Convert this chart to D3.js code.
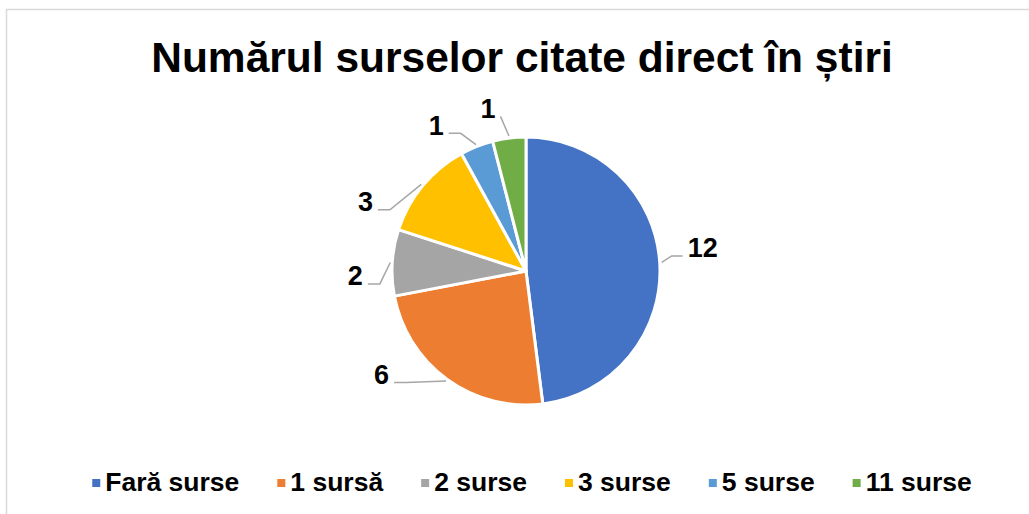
<!DOCTYPE html>
<html>
<head>
<meta charset="utf-8">
<script src="https://cdn.jsdelivr.net/npm/d3@7"></script>
<style>
  body { margin: 0; background: #fff; }
  svg { display: block; font-family: "Liberation Sans", Arial, sans-serif; }
</style>
</head>
<body>
<svg width="1029" height="514"></svg>
<script>
// date
var categories = ["Fară surse", "1 sursă", "2 surse", "3 surse", "5 surse", "11 surse"];
var values = [12, 6, 2, 3, 1, 1];
var colors = ["#4472C4", "#ED7D31", "#A5A5A5", "#FFC000", "#5B9BD5", "#70AD47"];
var title = "Numărul surselor citate direct în știri";

// mutari manuale ale etichetelor (ca in Excel)
var labelNudge = [[1, -12], [-41, -39], [5, 16], [-25, 43], [-25, 18], [-16, 12]];

var svg = d3.select("svg"),
    cx = 526, cy = 271, r = 134, labelR = 176;

// chenar
svg.append("rect")
    .attr("x", 6.5).attr("y", 9.5)
    .attr("width", 1040).attr("height", 520)
    .attr("fill", "none")
    .attr("stroke", "#d9d9d9")
    .attr("stroke-width", 1.5);

svg.append("text")
    .attr("x", 522).attr("y", 72)
    .attr("text-anchor", "middle")
    .style("font-size", "42.5px")
    .style("font-weight", "bold")
    .text(title);

var data = categories.map(function(c, i) { return {name: c, value: values[i], color: colors[i], nudge: labelNudge[i]}; });

var pie = d3.pie().sort(null).value(function(d) { return d.value; });
var arc = d3.arc().innerRadius(0).outerRadius(r);
var arcs = pie(data);

var g = svg.append("g").attr("transform", "translate(" + cx + "," + cy + ")");

g.selectAll("path.slice")
    .data(arcs)
    .enter().append("path")
      .attr("class", "slice")
      .attr("d", arc)
      .attr("fill", function(d) { return d.data.color; })
      .attr("stroke", "#fff")
      .attr("stroke-width", 3)
      .attr("stroke-linejoin", "round");

function polar(a, rad) { return [rad * Math.sin(a), -rad * Math.cos(a)]; }

arcs.forEach(function(d) {
  var mid = (d.startAngle + d.endAngle) / 2;
  var p = polar(mid, labelR);
  var lx = p[0] + d.data.nudge[0], ly = p[1] + d.data.nudge[1];

  var t = g.append("text")
      .attr("x", lx).attr("y", ly)
      .attr("dy", "0.35em")
      .attr("text-anchor", "middle")
      .style("font-size", "27px")
      .style("font-weight", "bold")
      .text(d.data.value);

  var bb = t.node().getBBox();
  var bottom = ly + 8;
  var edge = polar(mid, r + 2);
  var right = lx > 0;
  var end = right ? [bb.x - 5, bottom] : [bb.x + bb.width + 5, bottom];
  var pts;
  if (Math.abs(edge[0] - end[0]) < 20) {
    pts = [end, edge];
  } else {
    var elbow = [end[0] + (right ? -11 : 12), bottom];
    pts = [end, elbow, edge];
  }
  g.insert("path", "text")
      .attr("d", d3.line()(pts))
      .attr("fill", "none")
      .attr("stroke", "#a6a6a6")
      .attr("stroke-width", 1.5);
});

// legenda
var leg = svg.append("g");
var x = 0;
data.forEach(function(d) {
  var item = leg.append("g").attr("transform", "translate(" + x + ",0)");
  item.append("rect")
      .attr("x", 0).attr("y", 479)
      .attr("width", 8).attr("height", 8)
      .attr("fill", d.color);
  var t = item.append("text")
      .attr("x", 13).attr("y", 491)
      .style("font-size", "26.5px")
      .style("font-weight", "bold")
      .text(d.name);
  x += 13 + t.node().getComputedTextLength() + 38;
});
var legW = x - 38;
leg.attr("transform", "translate(" + (532 - legW / 2) + ",0)");
</script>
</body>
</html>
